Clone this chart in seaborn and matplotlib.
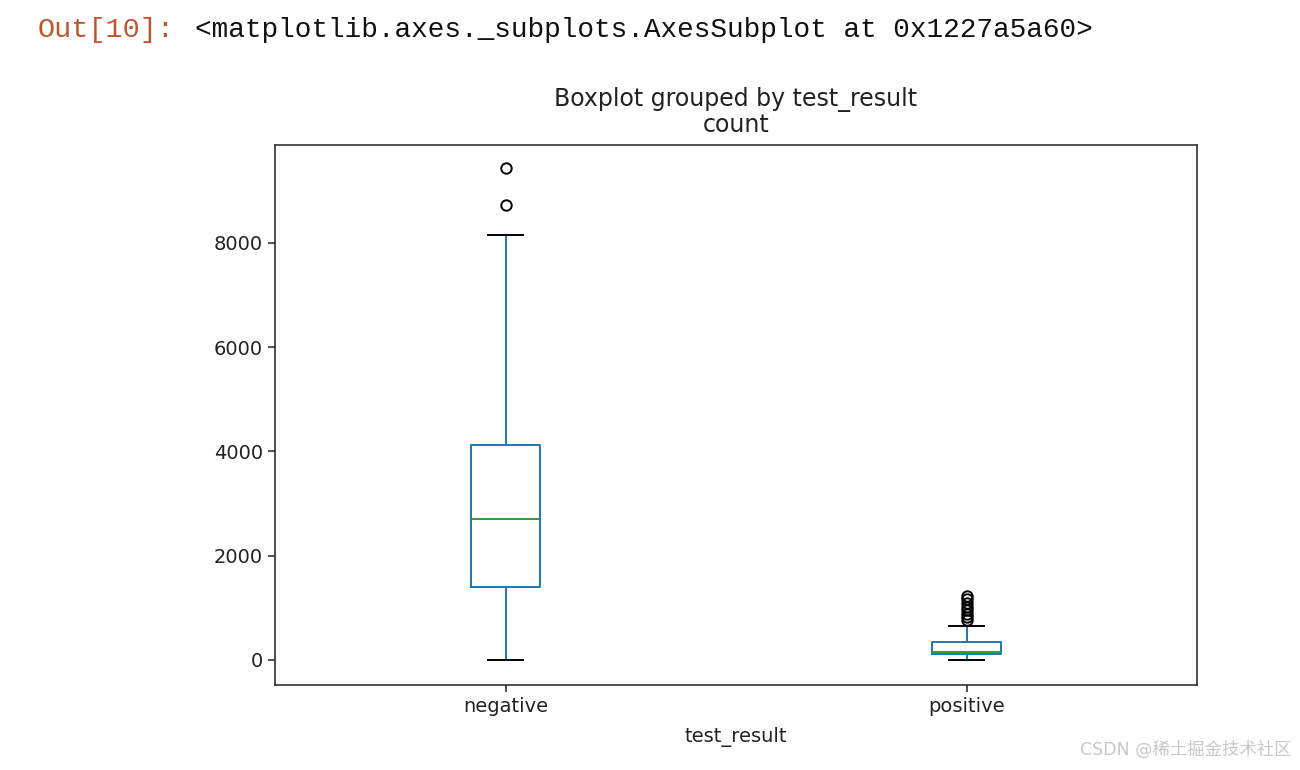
import matplotlib
matplotlib.use("Agg")
import matplotlib.pyplot as plt
import seaborn as sns
import pandas as pd

categories = ["negative", "positive"]
negative_counts = [0, 600, 1000, 1400, 1900, 2300, 2705, 3200, 3700, 4125, 8150, 8730, 9440]
positive_counts = [0, 20, 35, 50, 65, 80, 90, 100, 110, 115, 118, 122, 126, 130, 135, 140,
                   144, 148, 150, 165, 185, 210, 240, 270, 300, 325, 340, 345, 650,
                   760, 820, 880, 950, 1020, 1100, 1170, 1230]
yticks = [0, 2000, 4000, 6000, 8000]

df = pd.DataFrame({
    "test_result": [categories[0]] * len(negative_counts) + [categories[1]] * len(positive_counts),
    "count": negative_counts + positive_counts,
})

plt.rcParams['font.family'] = ['DejaVu Sans', 'Noto Sans CJK SC']
fig = plt.figure(figsize=(13, 7.7), dpi=100)
ax = fig.add_axes([275 / 1300, 85 / 770, 922 / 1300, 540 / 770])

blue = "#1f77b4"
sns.boxplot(data=df, x="test_result", y="count", order=categories, ax=ax,
            fill=False, color=blue, saturation=1, width=0.15, whis=1.5,
            linewidth=1.4,
            boxprops=dict(color=blue, linewidth=1.4),
            whiskerprops=dict(color=blue, linewidth=1.4),
            capprops=dict(color="black", linewidth=1.4),
            medianprops=dict(color="#2ca02c", linewidth=1.4),
            flierprops=dict(marker="o", markersize=7.5, markerfacecolor="none",
                            markeredgecolor="black", markeredgewidth=1.4))

ax.set_xlim(-0.5, 1.5)
ax.set_ylim(-480, 9880)
ax.set_yticks(yticks)
ax.set_yticklabels([str(v) for v in yticks])
ax.tick_params(labelsize=14, length=5, width=1.1, colors="#222222")
ax.set_xlabel("test_result", fontsize=14, color="#222222", labelpad=8)
ax.set_ylabel("")
for s in ax.spines.values():
    s.set_linewidth(1.1)
    s.set_color("#222222")
    s.set_visible(True)

cx = (275 + 1197) / 2 / 1300
fig.text(cx, 1 - 106 / 770, "Boxplot grouped by test_result", ha="center", va="baseline",
         fontsize=17, color="#222222")
fig.text(cx, 1 - 132 / 770, "count", ha="center", va="baseline", fontsize=17, color="#222222")

fig.text(38 / 1300, 1 - 37 / 770, "Out[10]:", ha="left", va="baseline",
         family="Liberation Mono", fontsize=20.5, color="#c2542c")
fig.text(195 / 1300, 1 - 37 / 770, "<matplotlib.axes._subplots.AxesSubplot at 0x1227a5a60>",
         ha="left", va="baseline", family="Liberation Mono", fontsize=20,
         color="#111111")
fig.text(1292 / 1300, 1 - 750 / 770, "CSDN @稀土掘金技术社区", ha="right", va="center",
         family=["DejaVu Sans", "Noto Sans CJK SC"], fontsize=12.5, color="#c8c8c8")

fig.savefig("out.png", dpi=100)
